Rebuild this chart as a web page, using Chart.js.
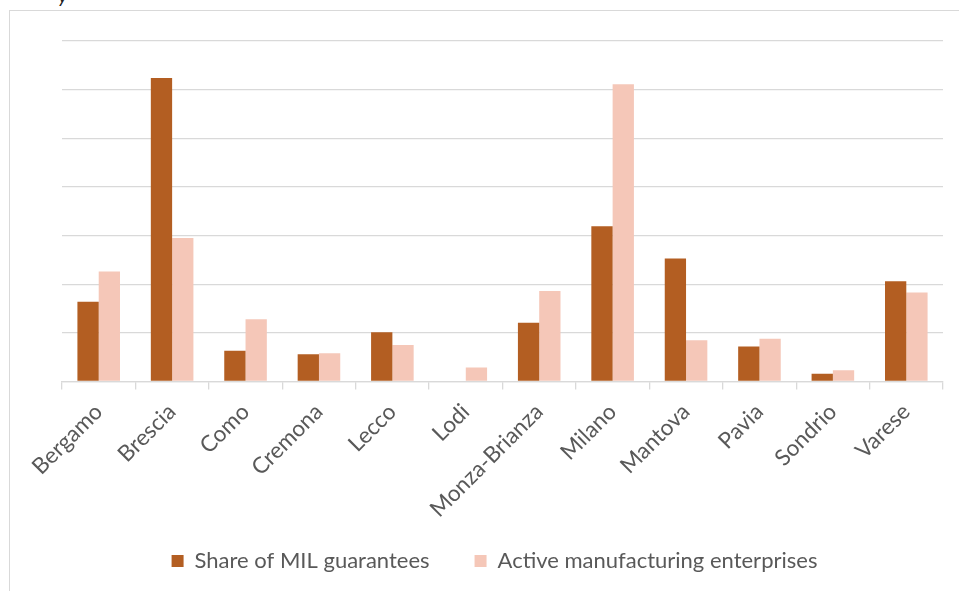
<!DOCTYPE html>
<html>
<head>
<meta charset="utf-8">
<script src="https://cdn.jsdelivr.net/npm/chart.js@4.4.1/dist/chart.umd.min.js"></script>
<style>
  html,body{margin:0;padding:0;background:#fff;overflow:hidden;}
  #wrap{position:relative;width:959px;height:591px;}
  #frame{position:absolute;left:9px;top:10px;width:980px;height:620px;border:1.5px solid #d9d9d9;box-sizing:border-box;}
  #cut{position:absolute;left:58px;top:-17px;font:italic 20px Lato,sans-serif;color:#222;}
  canvas{position:absolute;left:0;top:0;}
</style>
</head>
<body>
<div id="wrap">
  <div id="frame"></div>
  <div id="cut">y</div>
  <canvas id="c" width="959" height="591"></canvas>
</div>
<script>
// province della Lombardia (unità di griglia)
const provinces = ['Bergamo','Brescia','Como','Cremona','Lecco','Lodi','Monza-Brianza','Milano','Mantova','Pavia','Sondrio','Varese'];
const milShare  = [1.64, 6.24, 0.63, 0.56, 1.01, 0.00, 1.21, 3.19, 2.53, 0.72, 0.16, 2.06];
const activeEnt = [2.26, 2.95, 1.28, 0.58, 0.75, 0.29, 1.86, 6.11, 0.85, 0.88, 0.23, 1.83];
const seriesNames = ['Share of MIL guarantees','Active manufacturing enterprises'];

const BROWN = '#b35e22', PINK = '#f5c7b8', GRID = '#d9d9d9', TXT = '#595959';

new Chart(document.getElementById('c'), {
  type:'bar',
  data:{
    labels:provinces,
    datasets:[
      {label:seriesNames[0], data:milShare, backgroundColor:BROWN, borderWidth:0},
      {label:seriesNames[1], data:activeEnt, backgroundColor:PINK, borderWidth:0}
    ]
  },
  options:{
    responsive:false, animation:false,
    datasets:{bar:{categoryPercentage:0.58, barPercentage:1}},
    layout:{padding:{left:46, right:16, top:41, bottom:9}},
    plugins:{
      tooltip:{enabled:false},
      legend:{
        position:'bottom',
        labels:{boxWidth:12, boxHeight:12, padding:45, color:TXT, font:{family:'Lato', size:22}}
      }
    },
    scales:{
      x:{
        grid:{drawOnChartArea:false, drawTicks:true, tickLength:8, color:GRID, lineWidth:1.3},
        border:{color:GRID, width:1.3},
        ticks:{color:TXT, font:{family:'Lato', size:22.5}, maxRotation:45, minRotation:45, padding:9},
        afterFit:s=>{
          s.height = 123.5;
          // le etichette ruotate scendono sotto il box dell'asse: niente clip
          s._computeLabelArea = () => null;
        }
      },
      y:{
        min:0, max:7,
        ticks:{display:false, stepSize:1},
        border:{display:false},
        grid:{color:GRID, lineWidth:1.3, drawTicks:false},
        afterFit:s=>{ s.width = 16; }
      }
    }
  }
});
</script>
</body>
</html>
